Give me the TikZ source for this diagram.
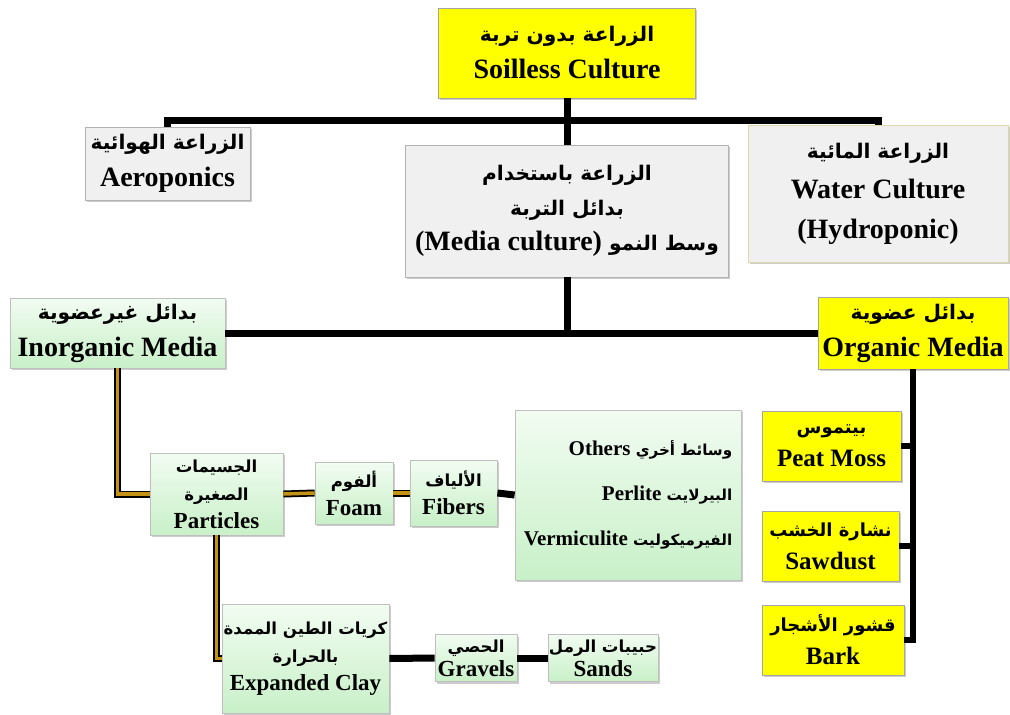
\documentclass[tikz,border=0pt]{standalone}
\usepackage{fontspec}
\setmainfont{Liberation Serif}
\newfontfamily\arabicfont[Script=Arabic,Scale=0.72]{DejaVu Sans}
\TeXXeTstate=1
\usetikzlibrary{shadows}
\newcommand\artxt[1]{{\arabicfont\beginR #1\endR}}
\definecolor{ylw}{RGB}{255,255,0}
\definecolor{lgray}{RGB}{240,240,240}
\definecolor{goldline}{RGB}{196,146,20}
\definecolor{grtop}{RGB}{242,252,242}
\definecolor{grbot}{RGB}{200,240,200}
\tikzset{
  box/.style={draw=black!30, line width=0.8pt, inner sep=0pt, align=center,
    drop shadow={shadow xshift=1.5pt, shadow yshift=-2pt, fill=black!40, opacity=.5}},
  ybox/.style={box, fill=ylw, draw=black!35},
  gbox/.style={box, fill=lgray},
  grbox/.style={box, top color=grtop, bottom color=grbot, draw=black!25},
  big/.style={font=\bfseries\fontsize{28}{37}\selectfont},
  org/.style={font=\bfseries\fontsize{25}{33}\selectfont},
  mid/.style={font=\bfseries\fontsize{23}{28}\selectfont},
  sml/.style={font=\bfseries\fontsize{23}{24}\selectfont},
  bar/.style={draw=black, line width=7pt},
  barthin/.style={draw=black, line width=6pt},
  goldbar/.style={draw=goldline, line width=3.5pt, preaction={draw=black, line width=7pt}},
}
\begin{document}
\begin{tikzpicture}[x=1pt,y=-1pt]
\useasboundingbox (0,0) rectangle (1010,715);
% top level
\node[ybox, big, minimum width=257pt, minimum height=90pt] (soil) at (567,53)
  {\artxt{الزراعة بدون تربة}\\Soilless Culture};
\node[gbox, big, minimum width=165pt, minimum height=73pt] (aero) at (167.5,163.5)
  {\artxt{الزراعة الهوائية}\\Aeroponics};
\node[gbox, big, font=\bfseries\fontsize{28}{35}\selectfont, minimum width=323pt, minimum height=132pt] (media) at (567,211)
  {\artxt{الزراعة باستخدام}\\\artxt{بدائل التربة}\\(Media culture) \artxt{وسط النمو}};
\node[gbox, big, font=\bfseries\fontsize{28}{40}\selectfont, draw=yellow!60!black!40, minimum width=260pt, minimum height=137pt] (water) at (878,193.5)
  {\artxt{الزراعة المائية}\\Water Culture\\(Hydroponic)};
% second level
\node[grbox, big, minimum width=215pt, minimum height=70pt] (inorg) at (117.5,333)
  {\artxt{بدائل غيرعضوية}\\Inorganic Media};
\node[ybox, big, minimum width=190pt, minimum height=72pt] (org) at (913,333)
  {\artxt{بدائل عضوية}\\Organic Media};
% inorganic branch
\node[grbox, mid, minimum width=133pt, minimum height=82pt] (part) at (216.5,494)
  {\artxt{الجسيمات}\\\artxt{الصغيرة}\\Particles};
\node[grbox, mid, minimum width=78pt, minimum height=62pt] (foam) at (354,493)
  {\artxt{ألفوم}\\Foam};
\node[grbox, mid, minimum width=87pt, minimum height=66pt] (fib) at (453.5,493)
  {\artxt{الألياف}\\Fibers};
\node[grbox, font=\bfseries\fontsize{21}{28}\selectfont, minimum width=226pt, minimum height=170pt, align=right] (others) at (628,495)
  {Others~\artxt{وسائط أخري}\\[17pt]Perlite~\artxt{البيرلايت}\\[17pt]Vermiculite~\artxt{الفيرميكوليت}};
\node[grbox, mid, minimum width=167pt, minimum height=109pt] (clay) at (305.5,658.5)
  {\artxt{كريات الطين الممدة}\\\artxt{بالحرارة}\\Expanded Clay};
\node[grbox, sml, minimum width=82pt, minimum height=47pt] (grav) at (476,658)
  {\artxt{الحصي}\\Gravels};
\node[grbox, sml, minimum width=110pt, minimum height=47pt] (sands) at (603,658)
  {\artxt{حبيبات الرمل}\\Sands};
% organic branch
\node[ybox, org, minimum width=139pt, minimum height=70pt] (peat) at (831.5,446)
  {\artxt{بيتموس}\\Peat Moss};
\node[ybox, org, minimum width=137pt, minimum height=70pt] (saw) at (830.5,546)
  {\artxt{نشارة الخشب}\\Sawdust};
\node[ybox, org, minimum width=142pt, minimum height=70pt] (bark) at (833,640)
  {\artxt{قشور الأشجار}\\Bark};
% connectors
\coordinate (tb) at (567,120);
\draw[bar] (aero.north) |- (tb) -| (water.north);
\draw[bar] (soil.south) -- (media.north);
\draw[bar] (media.south) -- (media.south |- inorg.east);
\draw[bar] (inorg.east) -- (org.west);
\draw[barthin] (org.south) |- (peat.east);
\draw[barthin] (org.south) |- (saw.east);
\draw[barthin] (org.south) |- (bark.east);
\draw[goldbar] (inorg.south) |- (part.west);
\draw[goldbar] (part.east) -- (foam.west);
\draw[goldbar] (foam.east) -- (fib.west);
\draw[bar] (fib.east) -- (others.west);
\draw[goldbar] (part.south) |- (clay.west);
\draw[bar] (clay.east) -- (grav.west);
\draw[bar] (grav.east) -- (sands.west);
\end{tikzpicture}
\end{document}
